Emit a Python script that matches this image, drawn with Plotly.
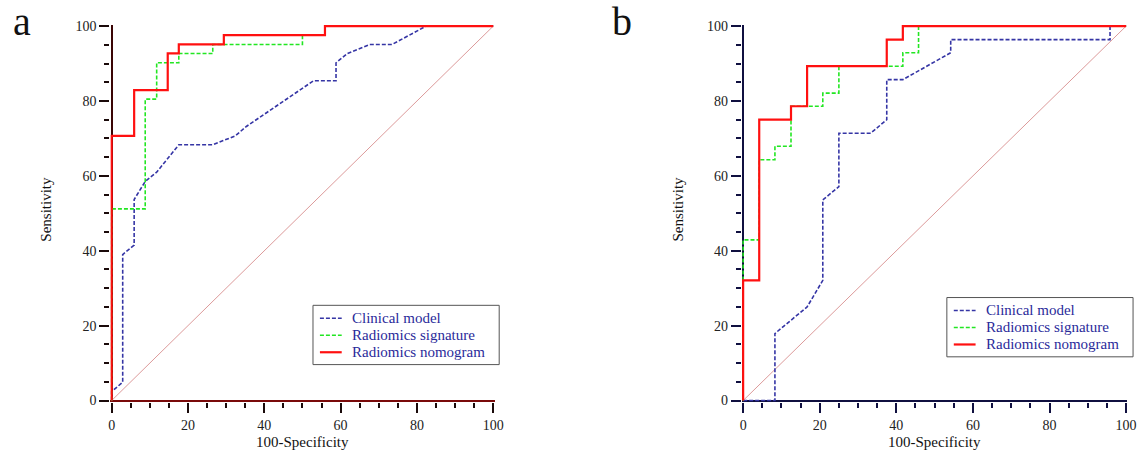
import plotly.graph_objects as go

# ---------------- data (100-Specificity, Sensitivity) ----------------
a_clinical_x = [0, 0, 2.9, 2.9, 5.9, 5.9, 8.8, 11.8, 17.6, 26.5, 32.4, 35.3, 52.9, 58.8, 58.8, 61.8, 67.6, 73.5, 82.4, 100]
a_clinical_y = [0, 2.4, 4.9, 39.0, 41.5, 53.7, 58.5, 61.0, 68.3, 68.3, 70.7, 73.2, 85.4, 85.4, 90.2, 92.7, 95.1, 95.1, 100, 100]
a_signature_x = [0, 0, 8.8, 8.8, 11.8, 11.8, 17.6, 17.6, 26.5, 26.5, 50.0, 50.0, 55.9, 55.9, 100]
a_signature_y = [0, 51.2, 51.2, 80.5, 80.5, 90.2, 90.2, 92.7, 92.7, 95.1, 95.1, 97.6, 97.6, 100, 100]
a_nomogram_x = [0, 0, 5.9, 5.9, 14.7, 14.7, 17.6, 17.6, 29.4, 29.4, 55.9, 55.9, 100]
a_nomogram_y = [0, 70.7, 70.7, 82.9, 82.9, 92.7, 92.7, 95.1, 95.1, 97.6, 97.6, 100, 100]

b_clinical_x = [0, 8.3, 8.3, 16.7, 20.8, 20.8, 25.0, 25.0, 33.3, 37.5, 37.5, 41.7, 54.2, 54.2, 95.8, 95.8, 100]
b_clinical_y = [0, 0, 17.9, 25.0, 32.1, 53.6, 57.1, 71.4, 71.4, 75.0, 85.7, 85.7, 92.9, 96.4, 96.4, 100, 100]
b_signature_x = [0, 0, 4.2, 4.2, 8.3, 8.3, 12.5, 12.5, 20.8, 20.8, 25.0, 25.0, 41.7, 41.7, 45.8, 45.8, 100]
b_signature_y = [0, 42.9, 42.9, 64.3, 64.3, 67.9, 67.9, 78.6, 78.6, 82.1, 82.1, 89.3, 89.3, 92.9, 92.9, 100, 100]
b_nomogram_x = [0, 0, 4.2, 4.2, 12.5, 12.5, 16.7, 16.7, 37.5, 37.5, 41.7, 41.7, 100]
b_nomogram_y = [0, 32.1, 32.1, 75.0, 75.0, 78.6, 78.6, 89.3, 89.3, 96.4, 96.4, 100, 100]

diag = [0, 100]
series_names = ["Clinical model", "Radiomics signature", "Radiomics nomogram"]
tick_values = [0, 20, 40, 60, 80, 100]
panel_labels = ["a", "b"]
x_title = "100-Specificity"
y_title = "Sensitivity"

SERIF = "Liberation Serif, Times New Roman, serif"
BLUE = "#3535a5"
GREEN = "#22e622"
RED = "#ff1010"
styles = [dict(color=BLUE, width=1.6, dash="4px,2px"),
          dict(color=GREEN, width=1.6, dash="4px,2px"),
          dict(color=RED, width=2.2)]

fig = go.Figure()

panels = [
    ("x", "y", [(a_clinical_x, a_clinical_y), (a_signature_x, a_signature_y), (a_nomogram_x, a_nomogram_y)]),
    ("x2", "y2", [(b_clinical_x, b_clinical_y), (b_signature_x, b_signature_y), (b_nomogram_x, b_nomogram_y)]),
]
for xa, ya, curves in panels:
    fig.add_trace(go.Scatter(x=diag, y=diag, mode="lines", xaxis=xa, yaxis=ya,
                             line=dict(color="#dc9a9a", width=1), showlegend=False, hoverinfo="skip"))
    for (cx, cy), nm, st in zip(curves, series_names, styles):
        fig.add_trace(go.Scatter(x=cx, y=cy, mode="lines", name=nm, xaxis=xa, yaxis=ya,
                                 line=st, showlegend=False))

W, H = 1148, 461
rng = [-0.35, 100.35]

def axis(domain, zcol, tcol):
    return dict(domain=domain, range=rng, showgrid=False, showline=False, zeroline=True,
                zerolinecolor=zcol, zerolinewidth=2, tickvals=tick_values, ticks="outside",
                ticklen=10, tickwidth=2, tickcolor=tcol,
                minor=dict(dtick=5, tick0=0, ticks="outside", ticklen=5, tickwidth=1.5, tickcolor=tcol),
                tickfont=dict(family=SERIF, size=14, color="#222222"), fixedrange=True)

fig.update_layout(
    width=W, height=H,
    margin=dict(l=0, r=0, t=0, b=0),
    paper_bgcolor="white", plot_bgcolor="white",
    xaxis=dict(axis([109.35 / W, 497.35 / W], "#3a0505", "#1a0a0a"), anchor="y"),
    yaxis=dict(axis([1 - 407.35 / H, 1 - 19.35 / H], "#7a0a0a", "#1a0a0a"), anchor="x"),
    xaxis2=dict(axis([746.95 / W, 1136.35 / W], "#101040", "#101040"), anchor="y2"),
    yaxis2=dict(axis([1 - 407.35 / H, 1 - 19.35 / H], "#101040", "#101040"), anchor="x2"),
    showlegend=False,
)

def px(v):
    return v / W

def py(v):
    return 1 - v / H

# legend boxes (pixel geometry: left, top, right, bottom)
legend_boxes = [(314, 308, 502, 369), (954, 300, 1142, 361)]
for (L, T, R, B) in legend_boxes:
    fig.add_shape(type="rect", xref="paper", yref="paper", x0=px(L), x1=px(R), y0=py(B), y1=py(T),
                  line=dict(color="#555555", width=1), fillcolor="white", layer="above")
    for i, (nm, st) in enumerate(zip(series_names, styles)):
        yy = T + 13.3 + i * 17.5
        fig.add_shape(type="line", xref="paper", yref="paper", x0=px(L + 7), x1=px(L + 29),
                      y0=py(yy), y1=py(yy), line=st, layer="above")
        fig.add_annotation(text=nm, x=px(L + 37), y=py(yy), xref="paper", yref="paper",
                           showarrow=False, xanchor="left", yanchor="middle",
                           font=dict(family=SERIF, size=15, color="#2a2a9a"))

for lab, xc in zip(panel_labels, (20, 626)):
    fig.add_annotation(text=lab, x=px(xc), y=py(16), xref="paper", yref="paper",
                       showarrow=False, xanchor="center", yanchor="middle",
                       font=dict(family=SERIF, size=40, color="#111111"))
for xc in (303.4, 941.7):
    fig.add_annotation(text=x_title, x=px(xc), y=py(449), xref="paper", yref="paper",
                       showarrow=False, xanchor="center", yanchor="middle",
                       font=dict(family=SERIF, size=15, color="#111111"))
for xc in (45, 683):
    fig.add_annotation(text=y_title, x=px(xc), y=py(209), xref="paper", yref="paper",
                       showarrow=False, textangle=-90, xanchor="center", yanchor="middle",
                       font=dict(family=SERIF, size=15, color="#111111"))

fig.write_html("out.html", config={"displayModeBar": False},
               post_script="document.body.style.margin='0px';document.body.style.overflow='hidden';")
